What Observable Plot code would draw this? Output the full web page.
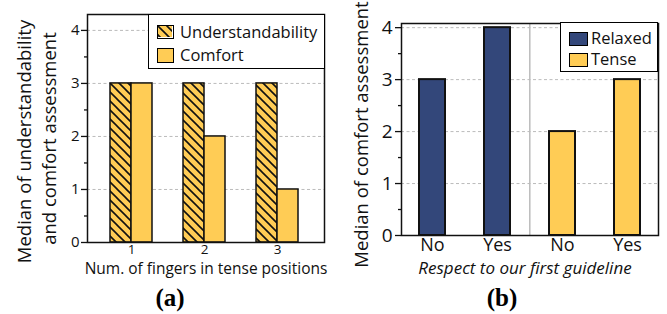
<!DOCTYPE html>
<html>
<head>
<meta charset="utf-8">
<script src="https://cdn.jsdelivr.net/npm/d3@7"></script>
<script src="https://cdn.jsdelivr.net/npm/@observablehq/plot@0.6"></script>
<style>
  html, body { margin: 0; padding: 0; background: white; }
  #page { position: relative; width: 667px; height: 314px; overflow: hidden; font-family: "Open Sans", sans-serif; }
  .chart { position: absolute; top: 0; }
  .legend { position: absolute; background: white; border: 1.5px solid black; box-sizing: border-box; font-family: "Open Sans", sans-serif; color: #111; line-height: 1; }
  .legend .item { display: flex; align-items: center; }
  .legend .sw { box-sizing: border-box; border: 1.5px solid black; display: inline-block; flex: none; }
  .cap { position: absolute; font-family: "Liberation Serif", "Times New Roman", serif; font-weight: bold; font-size: 25px; line-height: 1.1; transform: translateX(-50%); }
</style>
</head>
<body>
<svg width="0" height="0" style="position:absolute">
  <defs>
    <pattern id="hatch" patternUnits="userSpaceOnUse" width="9" height="9">
      <rect width="9" height="9" fill="#FFCC55"></rect>
      <path d="M-1,-1 L10,10 M-1,8 L1,10 M8,-1 L10,1" stroke="#111" stroke-width="1.6"></path>
    </pattern>
  </defs>
</svg>
<div id="page">
  <div id="a" class="chart" style="left:0px"></div>
  <div id="b" class="chart" style="left:333px"></div>
  <div class="legend" style="left:148px; top:14px; width:177px; height:55px; padding:7px 0 0 8px; font-size:16.5px;">
    <div class="item" style="height:20px"><span class="sw" style="width:17px;height:14px;"><svg width="14" height="11" style="display:block"><rect width="14" height="11" fill="url(#hatch)"></rect></svg></span><span style="margin-left:6px" id="la1"></span></div>
    <div class="item" style="height:20px; margin-top:3px"><span class="sw" style="width:17px;height:15px;background:#FFCC55;"></span><span style="margin-left:6px" id="la2"></span></div>
  </div>
  <div class="legend" style="left:560px; top:22px; width:98px; height:50px; padding:5px 0 0 8px; font-size:16.5px;">
    <div class="item" style="height:21px"><span class="sw" style="width:19px;height:14px;background:#33477A;"></span><span style="margin-left:3px" id="lb1"></span></div>
    <div class="item" style="height:21px; margin-top:0px"><span class="sw" style="width:19px;height:14px;background:#FFCC55;"></span><span style="margin-left:3px" id="lb2"></span></div>
  </div>
  <div class="cap" style="left:170px; top:284px;">(a)</div>
  <div class="cap" style="left:502px; top:284px;">(b)</div>
</div>
<script>
// ---- Data (a) ----
const fingers = [1, 2, 3];
const understandability = [3, 3, 3];
const comfortA = [3, 2, 1];
const seriesA = ["Understandability", "Comfort"];
const yTicks = [0, 1, 2, 3, 4];
const yMinor = [0.5, 1.5, 2.5, 3.5];
const xLabelA = "Num. of fingers in tense positions";
const yLabelA1 = "Median of understandability";
const yLabelA2 = "and comfort assessment";

// ---- Data (b) ----
const guideline = ["No", "Yes", "No", "Yes"];
const hand = ["Relaxed", "Relaxed", "Tense", "Tense"];
const comfortB = [3, 4, 2, 3];
const seriesB = ["Relaxed", "Tense"];
const xLabelB = "Respect to our first guideline";
const yLabelB = "Median of comfort assessment";

const YELLOW = "#FFCC55";
const NAVY = "#33477A";

document.getElementById("la1").textContent = seriesA[0];
document.getElementById("la2").textContent = seriesA[1];
document.getElementById("lb1").textContent = seriesB[0];
document.getElementById("lb2").textContent = seriesB[1];

const dataA = fingers.map((f, i) => ({f, u: understandability[i], c: comfortA[i]}));

const chartA = Plot.plot({
  width: 333,
  height: 282,
  marginLeft: 87,
  marginRight: 9,
  marginTop: 14,
  marginBottom: 40,
  style: {fontFamily: "Open Sans, sans-serif", color: "#111", background: "white"},
  x: {type: "band", domain: fingers, paddingInner: 0.4305, paddingOuter: 0.322, align: 0.463},
  y: {domain: [0, 4.3]},
  marks: [
    Plot.gridY(yTicks.slice(1), {stroke: "#aaa", strokeOpacity: 1, strokeDasharray: "3,2.5", strokeWidth: 0.8}),
    Plot.barY(dataA, {x: "f", y: "u", fill: "url(#hatch)", stroke: "#111", strokeWidth: 1.5, insetRight: 21}),
    Plot.barY(dataA, {x: "f", y: "c", fill: YELLOW, stroke: "#111", strokeWidth: 1.5, insetLeft: 21}),
    Plot.axisY({ticks: yTicks, tickFormat: d => String(d), tickSize: 6, tickPadding: 2, fontSize: 15, label: null, strokeWidth: 1.3}),
    Plot.axisY({ticks: yMinor, tickSize: 3, tickFormat: () => "", label: null, strokeWidth: 1.3}),
    Plot.axisX({tickSize: 0, tickPadding: 2, fontSize: 13.5, label: null}),
    Plot.text([xLabelA], {frameAnchor: "bottom", dy: 27, fontSize: 15.5, lineAnchor: "middle"}),
    Plot.text([yLabelA1], {frameAnchor: "left", rotate: -90, dx: -62, dy: 13, fontSize: 18.5, textAnchor: "middle", lineAnchor: "middle"}),
    Plot.text([yLabelA2], {frameAnchor: "left", rotate: -90, dx: -37, dy: 10, fontSize: 18.5, textAnchor: "middle", lineAnchor: "middle"}),
    Plot.frame({stroke: "#111", strokeWidth: 1.5})
  ]
});
document.getElementById("a").appendChild(chartA);

const dataB = guideline.map((g, i) => ({key: hand[i] + "-" + g, g, h: hand[i], v: comfortB[i]}));
const keys = dataB.map(d => d.key);

const chartB = Plot.plot({
  width: 334,
  height: 282,
  marginLeft: 68,
  marginRight: 9,
  marginTop: 23,
  marginBottom: 47,
  style: {fontFamily: "Open Sans, sans-serif", color: "#111", background: "white"},
  x: {type: "band", domain: keys, paddingInner: 0.6, paddingOuter: 0.263},
  y: {domain: [0, 4.08]},
  color: {domain: seriesB, range: [NAVY, YELLOW]},
  marks: [
    Plot.gridY(yTicks.slice(1), {stroke: "#aaa", strokeOpacity: 1, strokeDasharray: "3,2.5", strokeWidth: 0.8}),
    Plot.ruleX([keys[2]], {dx: -32.7, stroke: "#bbb", strokeWidth: 1.5}),
    Plot.barY(dataB, {x: "key", y: "v", fill: "h", stroke: "#111", strokeWidth: 2}),
    Plot.axisY({ticks: yTicks, tickFormat: d => String(d), tickSize: 6, tickPadding: 3, fontSize: 19, label: null, strokeWidth: 1.3}),
    Plot.axisY({ticks: yMinor, tickSize: 3, tickFormat: () => "", label: null, strokeWidth: 1.3}),
    Plot.axisX({tickSize: 0, tickPadding: 3, fontSize: 18, label: null, tickFormat: d => d.split("-")[1]}),
    Plot.text([xLabelB], {frameAnchor: "bottom", dy: 33, fontSize: 17, fontStyle: "italic", lineAnchor: "middle", dx: -5}),
    Plot.text([yLabelB], {frameAnchor: "left", rotate: -90, dx: -39, dy: 5, fontSize: 18.5, textAnchor: "middle", lineAnchor: "middle"}),
    Plot.frame({stroke: "#111", strokeWidth: 1.5})
  ]
});
document.getElementById("b").appendChild(chartB);
</script>
</body>
</html>
